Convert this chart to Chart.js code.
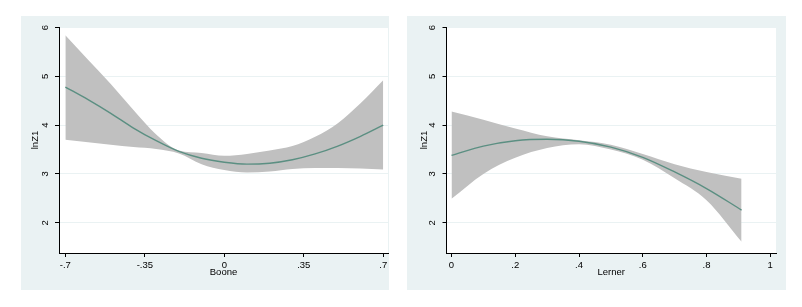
<!DOCTYPE html>
<html>
<head>
<meta charset="utf-8">
<script src="https://cdn.jsdelivr.net/npm/chart.js@4.4.1/dist/chart.umd.min.js"></script>
<style>
  body { margin: 0; background: #fff; width: 802px; height: 307px; position: relative; overflow: hidden; }
  .panel { position: absolute; top: 16px; height: 274px; }
  #leftBox { left: 21px; width: 368px; }
  #rightBox { left: 407px; width: 379px; }
</style>
</head>
<body>
<div class="panel" id="leftBox"><canvas id="booneChart"></canvas></div>
<div class="panel" id="rightBox"><canvas id="lernerChart"></canvas></div>
<script>
// Boone panel (fitted values with confidence band)
var booneX = [-0.7, -0.6, -0.5, -0.4, -0.3, -0.2, -0.1, 0, 0.1, 0.2, 0.3, 0.4, 0.5, 0.6, 0.7];
var booneFit = [4.78, 4.52, 4.24, 3.94, 3.68, 3.46, 3.32, 3.24, 3.20, 3.22, 3.29, 3.41, 3.57, 3.77, 4.00];
var booneUpper = [5.84, 5.34, 4.84, 4.31, 3.81, 3.48, 3.43, 3.37, 3.41, 3.48, 3.57, 3.76, 4.04, 4.45, 4.92];
var booneLower = [3.70, 3.65, 3.60, 3.55, 3.51, 3.42, 3.20, 3.08, 3.03, 3.05, 3.10, 3.12, 3.12, 3.11, 3.09];
var booneTicks = [-0.7, -0.35, 0, 0.35, 0.7];
var booneTickLabels = ['-.7', '-.35', '0', '.35', '.7'];

// Lerner panel
var lernerX = [0, 0.1, 0.2, 0.3, 0.4, 0.5, 0.6, 0.7, 0.8, 0.91];
var lernerFit = [3.38, 3.57, 3.68, 3.71, 3.67, 3.55, 3.34, 3.04, 2.70, 2.26];
var lernerUpper = [4.28, 4.11, 3.93, 3.77, 3.69, 3.60, 3.41, 3.20, 3.04, 2.90];
var lernerLower = [2.49, 3.00, 3.33, 3.53, 3.61, 3.50, 3.29, 2.91, 2.46, 1.61];
var lernerTicks = [0, 0.2, 0.4, 0.6, 0.8, 1];
var lernerTickLabels = ['0', '.2', '.4', '.6', '.8', '1'];

var yTicks = [2, 3, 4, 5, 6];
var yTickLabels = ['2', '3', '4', '5', '6'];

var bgColor = '#eaf2f3';
var bandColor = 'rgb(192,192,192)';
var fitColor = '#5b8f82';
var fontFamily = '"Liberation Sans", Arial, sans-serif';

// paint the outer region and the white plot region
var panelBg = {
    id: 'panelBg',
    beforeDraw: function (chart) {
        var ctx = chart.ctx, a = chart.chartArea;
        ctx.save();
        ctx.fillStyle = bgColor;
        ctx.fillRect(0, 0, chart.width, chart.height);
        ctx.fillStyle = '#fff';
        ctx.fillRect(a.left, a.top, a.right - a.left, a.bottom - a.top);
        ctx.restore();
    }
};

function pts(xs, ys) {
    return xs.map(function (x, i) { return { x: x, y: ys[i] }; });
}

function makeChart(id, cfg) {
    var tickLabel = function (vals, labels) {
        return function (value) {
            var i = vals.findIndex(function (v) { return Math.abs(v - value) < 1e-9; });
            return i >= 0 ? labels[i] : '';
        };
    };
    new Chart(document.getElementById(id).getContext('2d'), {
        type: 'scatter',
        data: {
            datasets: [
                {
                    data: pts(cfg.x, cfg.lower),
                    order: 3,
                    showLine: true,
                    borderWidth: 0,
                    borderColor: 'rgba(0,0,0,0)',
                    pointRadius: 0,
                    cubicInterpolationMode: 'monotone',
                    fill: false,
                },
                {
                    data: pts(cfg.x, cfg.upper),
                    order: 2,
                    showLine: true,
                    borderWidth: 0,
                    borderColor: 'rgba(0,0,0,0)',
                    pointRadius: 0,
                    cubicInterpolationMode: 'monotone',
                    backgroundColor: bandColor,
                    fill: '-1',
                },
                {
                    data: pts(cfg.x, cfg.fit),
                    order: 1,
                    showLine: true,
                    borderColor: fitColor,
                    borderWidth: 1.4,
                    pointRadius: 0,
                    cubicInterpolationMode: 'monotone',
                    fill: false,
                },
            ],
        },
        options: {
            responsive: true,
            maintainAspectRatio: false,
            animation: false,
            events: [],
            layout: { padding: { top: 11, right: cfg.padRight, bottom: 0, left: 0 } },
            plugins: { legend: { display: false }, tooltip: { enabled: false } },
            scales: {
                x: {
                    type: 'linear',
                    min: cfg.xMin,
                    max: cfg.xMax,
                    afterBuildTicks: function (s) { s.ticks = cfg.ticks.map(function (v) { return { value: v }; }); },
                    afterFit: function (s) { s.height = 37; s.paddingLeft = 0; s.paddingRight = 0; },
                    grid: { drawOnChartArea: false, tickLength: 4, tickColor: '#000' },
                    border: { display: true, color: '#000', width: 1 },
                    ticks: {
                        color: '#000', padding: 3, maxRotation: 0, autoSkip: false,
                        font: { family: fontFamily, size: 9.5 },
                        callback: tickLabel(cfg.ticks, cfg.tickLabels),
                    },
                    title: {
                        display: true, text: cfg.title, color: '#000',
                        font: { family: fontFamily, size: 9.5, lineHeight: 1.2 },
                        padding: { top: 0, bottom: 11.5 },
                    },
                },
                y: {
                    type: 'linear',
                    min: 1.38,
                    max: 6.01,
                    afterBuildTicks: function (s) { s.ticks = yTicks.map(function (v) { return { value: v }; }); },
                    afterFit: function (s) { s.width = cfg.yWidth; s.paddingTop = 0; s.paddingBottom = 0; },
                    grid: { color: bgColor, lineWidth: 1, tickLength: 4, tickColor: '#000' },
                    border: { display: true, color: '#000', width: 1 },
                    ticks: {
                        color: '#000', padding: cfg.yTickPad, minRotation: 90, maxRotation: 90,
                        crossAlign: 'center', autoSkip: false,
                        font: { family: fontFamily, size: 9.5 },
                        callback: tickLabel(yTicks, yTickLabels),
                    },
                    title: {
                        display: true, text: 'lnZ1', color: '#000',
                        font: { family: fontFamily, size: 9.5, lineHeight: 1.2 },
                        padding: { top: cfg.yTitlePad, bottom: 0 },
                    },
                },
            },
        },
        plugins: [panelBg],
    });
}

makeChart('booneChart', {
    x: booneX, fit: booneFit, upper: booneUpper, lower: booneLower,
    ticks: booneTicks, tickLabels: booneTickLabels, title: 'Boone',
    xMin: -0.728, xMax: 0.721, padRight: 1, yWidth: 38, yTickPad: 7, yTitlePad: 8.3,
});

makeChart('lernerChart', {
    x: lernerX, fit: lernerFit, upper: lernerUpper, lower: lernerLower,
    ticks: lernerTicks, tickLabels: lernerTickLabels, title: 'Lerner',
    xMin: -0.0157, xMax: 1.018, padRight: 10, yWidth: 39.5, yTickPad: 7, yTitlePad: 11.3,
});
</script>
</body>
</html>
